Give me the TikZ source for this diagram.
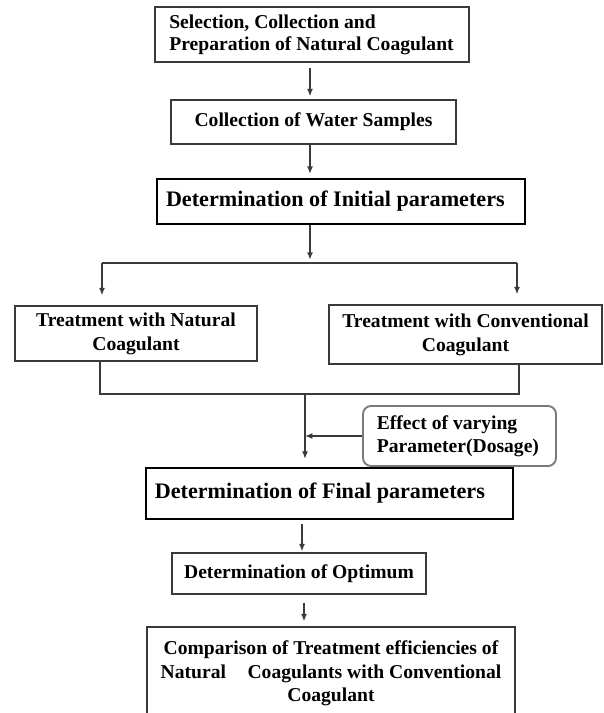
\documentclass[tikz,border=0pt]{standalone}
\usepackage{fontspec}
\setmainfont{Liberation Serif}
\usetikzlibrary{arrows.meta}
\definecolor{ln}{HTML}{3A3A3A}
\definecolor{effgray}{HTML}{7A7A7A}
\newcommand{\smallsz}{\bfseries\fontsize{14.7}{17}\selectfont}
\newcommand{\bigsz}{\bfseries\fontsize{16.6}{19}\selectfont}
\tikzset{
  box/.style={draw=ln, line width=1.1pt, inner sep=0pt, font=\smallsz, text=black},
  thickbox/.style={draw=black, line width=1.8pt, inner sep=0pt, font=\bigsz, text=black},
  effbox/.style={draw=effgray, line width=1.4pt, rounded corners=6pt, inner sep=0pt, font=\smallsz, text=black},
  conn/.style={draw=ln, line width=1pt},
  arr/.style={conn, -{Latex[length=5.5pt,width=4.5pt]}}
}
\begin{document}
\begin{tikzpicture}[x=0.75pt,y=-0.75pt]
\useasboundingbox (0,0) rectangle (603,713);
\clip (0,0) rectangle (603,713);
% boxes
\node[box, minimum width=235.5pt, minimum height=41.25pt, text width=214pt, align=flush left, font=\bfseries\fontsize{14.7}{16.5}\selectfont] (sel) at (312,34.5) {Selection, Collection and\\Preparation of Natural Coagulant};
\node[box, minimum width=213.75pt, minimum height=33pt, align=center] (water) at (313.5,122) {Collection of Water Samples};
\node[thickbox, minimum width=276pt, minimum height=33.75pt, text width=262.5pt, align=flush left] (init) at (341,201.5) {Determination of Initial parameters};
\node[box, minimum width=181.5pt, minimum height=41.25pt, align=center, font=\bfseries\fontsize{14.7}{18}\selectfont] (nat) at (136,333.5) {Treatment with Natural\\Coagulant};
\node[box, minimum width=204.75pt, minimum height=44.25pt, align=center, font=\bfseries\fontsize{14.7}{18}\selectfont] (conv) at (465.5,334.5) {Treatment with Conventional\\Coagulant};
\node[effbox, minimum width=144.75pt, minimum height=45pt, text width=124pt, align=flush left] (eff) at (459.5,436) {Effect of varying\\Parameter(Dosage)};
\node[thickbox, minimum width=275.25pt, minimum height=38.25pt, text width=262pt, align=flush left] (fin) at (329.5,493.5) {Determination of Final parameters};
\node[box, minimum width=190.5pt, minimum height=30.75pt, align=center] (opt) at (299,573.5) {Determination of Optimum};
\node[box, minimum width=276pt, minimum height=69.75pt, align=center, font=\bfseries\fontsize{14.7}{17.6}\selectfont] (cmp) at (331,673.5) {Comparison of Treatment efficiencies of\\Natural\hspace{1.1em}Coagulants with Conventional\\Coagulant};
% helper coordinates
\coordinate (cx) at (310,0);
\coordinate (sp) at (310,263);
\coordinate (spL) at (102,263);
\coordinate (spR) at (517,263);
\coordinate (jL) at (100,394);
\coordinate (jR) at (519,394);
\coordinate (jC) at (305,394);
\coordinate (c6) at (302,0);
\coordinate (c7) at (304,0);
% connectors
\draw[arr, shorten <=3.75pt, shorten >=2.25pt] (sel.south -| cx) -- (water.north -| cx);
\draw[arr, shorten >=3pt] (water.south -| cx) -- (init.north -| cx);
\draw[arr, shorten >=2.5pt] (init.south -| cx) -- (sp);
\draw[conn] (spL) -- (spR);
\draw[arr, shorten >=7.5pt] (spL) -- (nat.north -| spL);
\draw[arr, shorten >=7.5pt] (spR) -- (conv.north -| spR);
\draw[conn] (nat.south -| jL) -- (jL) -- (jR) -- (conv.south -| jR);
\draw[arr, shorten >=6pt] (jC) -- (fin.north -| jC);
\draw[arr] (eff.west) -- (eff.west -| jC);
\draw[arr, shorten <=3pt, shorten >=0.75pt] (fin.south -| c6) -- (opt.north -| c6);
\draw[arr, shorten <=6pt, shorten >=3.75pt] (opt.south -| c7) -- (cmp.north -| c7);
\end{tikzpicture}
\end{document}
